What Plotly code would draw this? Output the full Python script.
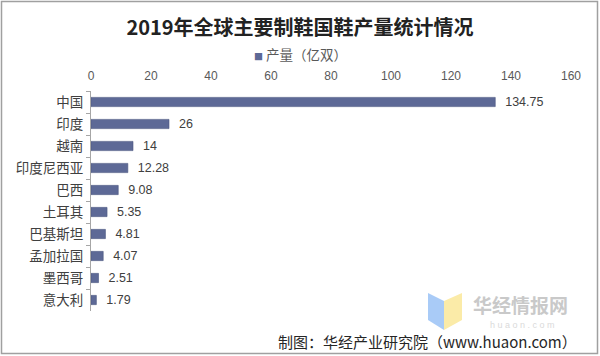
import plotly.graph_objects as go

categories = ["中国", "印度", "越南", "印度尼西亚", "巴西", "土耳其", "巴基斯坦", "孟加拉国", "墨西哥", "意大利"]
values = [134.75, 26, 14, 12.28, 9.08, 5.35, 4.81, 4.07, 2.51, 1.79]
value_labels = ["134.75", "26", "14", "12.28", "9.08", "5.35", "4.81", "4.07", "2.51", "1.79"]
x_ticks = [0, 20, 40, 60, 80, 100, 120, 140, 160]
series_name = "产量（亿双）"

W, H = 600, 356
ML, MR, MT, MB = 91, 29, 91, 45
PW, PH = W - ML - MR, H - MT - MB
BAR_COLOR = "#5D6996"

def px(x):
    return (x - ML) / PW

def py(y):
    return (H - MB - y) / PH

fig = go.Figure()
fig.add_trace(go.Bar(
    y=categories, x=values, orientation="h", name=series_name,
    marker=dict(color=BAR_COLOR, line=dict(color="#4A5580", width=0.6)),
    width=0.42,
    text=value_labels, texttemplate="  %{text}", textposition="outside", cliponaxis=False,
    constraintext="none",
    textfont=dict(family="Liberation Sans, Arial", size=12.5, color="#404040"),
    showlegend=False,
))

fig.update_layout(
    width=W, height=H,
    margin=dict(l=ML, r=MR, t=MT, b=MB, autoexpand=False),
    paper_bgcolor="white", plot_bgcolor="white",
    title=dict(text="<b>2019年全球主要制鞋国鞋产量统计情况</b>",
               x=0.5, xanchor="center", y=1 - 28 / H, yanchor="middle",
               font=dict(family="Noto Sans CJK SC", size=20, color="#222222")),
    xaxis=dict(side="top", range=[0, 160], tickvals=x_ticks, automargin=False,
               showgrid=False, zeroline=False, showline=False,
               ticks="", ticklabelstandoff=8,
               tickfont=dict(family="Liberation Sans, Arial", size=12, color="#595959")),
    yaxis=dict(autorange="reversed", showgrid=False, zeroline=False, automargin=False,
               showline=True, linecolor="#A6A6A6", linewidth=1,
               ticks="outside", ticklen=4, tickcolor="#A6A6A6", tickson="boundaries",
               ticklabelstandoff=4,
               tickfont=dict(family="Noto Sans CJK SC", size=13.5, color="#404040")),
    bargap=0.5,
)

# legend (small square + series name)
fig.add_annotation(text=f"<span style='color:{BAR_COLOR};font-size:9px'>■</span> {series_name}",
                   xref="paper", yref="paper", x=px(300), y=py(54),
                   xanchor="center", yanchor="middle", showarrow=False,
                   font=dict(family="Noto Sans CJK SC", size=13.5, color="#595959"))

# outer border
fig.add_shape(type="rect", xref="paper", yref="paper",
              x0=px(1.5), x1=px(W - 2.5), y0=py(H - 2.5), y1=py(1.5),
              line=dict(color="#A0A0A0", width=1.5), fillcolor="rgba(0,0,0,0)", layer="below")

# watermark logo
fig.add_shape(type="path", xref="paper", yref="paper",
              path=f"M {px(428)},{py(293)} L {px(444)},{py(301)} L {px(444)},{py(330)} L {px(428)},{py(320)} Z",
              fillcolor="#A9CBF7", line=dict(width=0))
fig.add_shape(type="path", xref="paper", yref="paper",
              path=f"M {px(444)},{py(301)} L {px(462)},{py(293)} L {px(462)},{py(320)} L {px(444)},{py(330)} Z",
              fillcolor="#FBEBA8", line=dict(width=0))

fig.add_annotation(text="<b>华经情报网</b>", xref="paper", yref="paper",
                   x=px(471), y=py(304), xanchor="left", yanchor="middle", showarrow=False,
                   font=dict(family="Noto Sans CJK SC", size=19, color="#C9C9C9"))
fig.add_annotation(text="h u a o n . c o m", xref="paper", yref="paper",
                   x=px(522), y=py(324.5), xanchor="center", yanchor="middle", showarrow=False,
                   font=dict(family="Liberation Sans, Arial", size=9, color="#DADADA"))

fig.add_annotation(text="制图：华经产业研究院（www.huaon.com）", xref="paper", yref="paper",
                   x=px(579), y=py(341), xanchor="right", yanchor="middle", showarrow=False,
                   font=dict(family="Noto Sans CJK SC", size=15, color="#262626"))

fig.write_html("out.html", config={"displayModeBar": False},
               post_script="document.body.style.margin='0';")
